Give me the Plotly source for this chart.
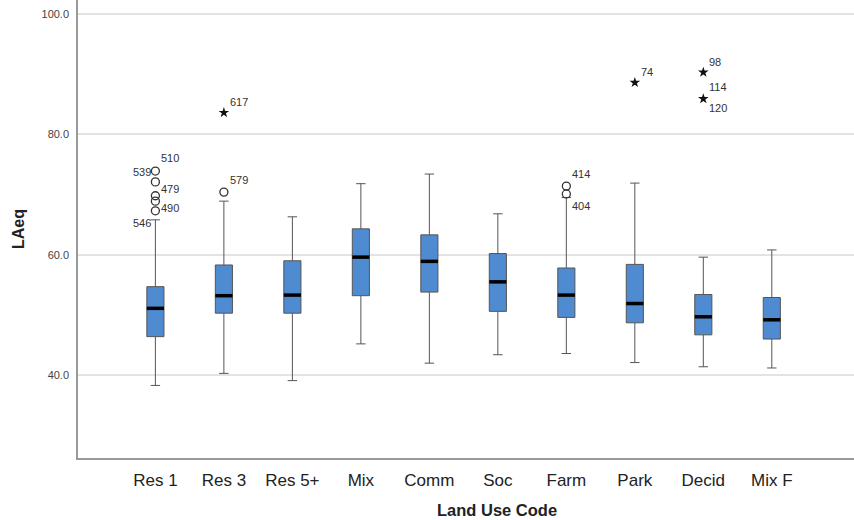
import plotly.graph_objects as go

categories = ["Res 1", "Res 3", "Res 5+", "Mix", "Comm", "Soc", "Farm", "Park", "Decid", "Mix F"]
q1 = [46.4, 50.3, 50.3, 53.2, 53.8, 50.6, 49.6, 48.7, 46.7, 46.0]
median = [51.1, 53.2, 53.3, 59.6, 58.9, 55.5, 53.3, 51.9, 49.7, 49.2]
q3 = [54.7, 58.3, 59.0, 64.3, 63.3, 60.2, 57.8, 58.4, 53.4, 52.9]
lower_whisker = [38.3, 40.3, 39.1, 45.2, 42.0, 43.4, 43.6, 42.1, 41.4, 41.2]
upper_whisker = [65.8, 68.9, 66.3, 71.8, 73.4, 66.8, 69.5, 71.9, 59.6, 60.8]

# outliers (circles) and extremes (stars): category index, value, case label
circle_cat = [0, 0, 0, 0, 0, 1, 6, 6]
circle_val = [73.9, 72.1, 69.8, 68.9, 67.3, 70.4, 71.4, 70.1]
star_cat = [1, 7, 8, 8]
star_val = [83.6, 88.6, 90.3, 85.9]

label_cat = [0, 0, 0, 0, 0, 1, 1, 6, 6, 7, 8, 8, 8]
label_val = [73.9, 73.9, 72.1, 68.9, 67.3, 83.6, 70.4, 71.4, 70.1, 88.6, 90.3, 85.9, 85.9]
label_text = ["510", "539", "479", "490", "546", "617", "579", "414", "404", "74", "98", "114", "120"]
label_side = ["right", "left", "right", "right", "left", "right", "right", "right", "right", "right", "right", "right", "right"]
label_dy = [13, -1, -7, -7, -12, 11, 12, 12, -12, 11, 10, 12, -9]

idx = list(range(len(categories)))
box_w = 0.25

fig = go.Figure()
fig.add_trace(go.Box(
    x=idx, q1=q1, median=median, q3=q3,
    lowerfence=lower_whisker, upperfence=upper_whisker,
    width=box_w, whiskerwidth=0.55,
    fillcolor="#4F8BD0", line=dict(color="#555555", width=1),
    boxpoints=False, hoverinfo="skip", showlegend=False,
))

# thick median lines
mx, my = [], []
for i, m in zip(idx, median):
    mx += [i - box_w / 2, i + box_w / 2, None]
    my += [m, m, None]
fig.add_trace(go.Scatter(x=mx, y=my, mode="lines",
                         line=dict(color="black", width=3.5),
                         showlegend=False, hoverinfo="skip"))

fig.add_trace(go.Scatter(x=circle_cat, y=circle_val, mode="markers",
                         marker=dict(symbol="circle-open", size=8, color="#333333",
                                     line=dict(width=1.3)),
                         showlegend=False, hoverinfo="skip"))
fig.add_trace(go.Scatter(x=star_cat, y=star_val, mode="markers",
                         marker=dict(symbol="star", size=8, color="#111111"),
                         showlegend=False, hoverinfo="skip"))

for c, v, t, s, dy in zip(label_cat, label_val, label_text, label_side, label_dy):
    fig.add_annotation(x=c, y=v, text=t, showarrow=False,
                       xanchor="left" if s == "right" else "right",
                       xshift=4 if s == "right" else -2, yshift=dy,
                       font=dict(size=11, color="#333333"))

# x-axis title (offset to the right as in the reference)
fig.add_annotation(x=0.54, y=0, xref="paper", yref="paper", yanchor="middle",
                   yshift=-52, text="<b>Land Use Code</b>", showarrow=False,
                   font=dict(size=16.5, color="#222222"))

fig.update_layout(
    width=854, height=520,
    margin=dict(l=78, r=0, t=0, b=62, autoexpand=False),
    plot_bgcolor="white", paper_bgcolor="white",
    font=dict(family="Liberation Sans, Arial, sans-serif", color="#222222"),
    xaxis=dict(
        range=[-1.13, 10.2], tickmode="array", tickvals=idx, ticktext=categories,
        showgrid=False, zeroline=False, showline=True, linecolor="#999999", linewidth=1.5,
        ticks="", tickfont=dict(size=17, color="#222222"), ticklabelstandoff=6,
    ),
    yaxis=dict(
        range=[26.25, 102.3], tickvals=[40, 60, 80, 100], tickformat=".1f",
        showgrid=True, gridcolor="#e3e3e3", gridwidth=1.5, zeroline=False,
        showline=True, linecolor="#999999", linewidth=1.5, ticks="",
        tickfont=dict(size=11, color="#444444"), ticklabelstandoff=5,
        title=dict(text="<b>LAeq</b>", font=dict(size=16, color="#222222"), standoff=13),
    ),
)

fig.write_html("out.html", config={"displayModeBar": False},
               post_script="document.body.style.margin='0';")
